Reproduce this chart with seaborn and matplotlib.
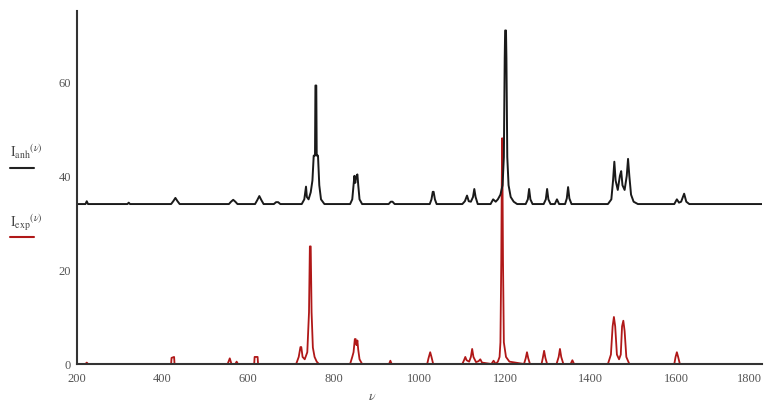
import matplotlib
matplotlib.use("Agg")
import matplotlib.pyplot as plt
from matplotlib.lines import Line2D
import seaborn as sns
import pandas as pd

# Calculated (anharmonic) spectrum: wavenumber vertices and intensity
anh_nu = [200, 220, 223, 226, 318, 321, 324,
          420, 425, 430, 435, 440, 555, 560, 565, 570, 575,
          616, 621, 626, 631, 636, 660, 665, 670, 675,
          725, 731, 735, 737, 741, 746, 750, 753, 756, 757, 759, 760, 763, 766, 770, 778,
          838, 843, 846, 848, 850, 852, 855, 857, 860, 866,
          928, 933, 937, 942, 1024, 1028, 1031, 1033, 1036, 1040,
          1100, 1106, 1111, 1115, 1120, 1125, 1128, 1131, 1136,
          1166, 1172, 1178, 1183, 1189, 1194, 1197, 1199, 1200, 1202, 1203, 1205, 1208, 1213, 1220, 1228,
          1248, 1253, 1256, 1259, 1264, 1290, 1295, 1298, 1301, 1306,
          1316, 1321, 1326, 1340, 1344, 1347, 1350, 1355,
          1440, 1448, 1452, 1455, 1458, 1463, 1468, 1471, 1474, 1479, 1484, 1487, 1490, 1494, 1500, 1510,
          1595, 1601, 1606, 1611, 1618, 1623, 1630, 1800]
anh_I = [34, 34, 34.6, 34, 34, 34.3, 34,
         34, 34.6, 35.3, 34.6, 34, 34, 34.5, 34.9, 34.5, 34,
         34, 34.8, 35.7, 34.8, 34, 34, 34.4, 34.4, 34,
         34, 35, 37.7, 35.5, 35, 36.5, 39, 44.3, 44.3, 59.2, 59.2, 44.3, 44.3, 38, 35, 34,
         34, 35, 38, 40, 38.5, 39.8, 40.3, 38, 35, 34,
         34, 34.5, 34.5, 34, 34, 35, 36.6, 36.6, 35, 34,
         34, 34.6, 35.8, 34.6, 34.5, 35.5, 37.2, 35.5, 34,
         34, 35, 34.5, 35, 36, 38, 44, 65, 70.9, 70.9, 65, 44, 38, 35.5, 34.5, 34,
         34, 35, 37.2, 35, 34, 34, 35, 37.2, 35, 34,
         34, 35, 34, 34, 35.2, 37.6, 35.2, 34,
         34, 35, 39, 43, 39, 37, 40, 41, 38, 37, 40, 43.6, 40, 36, 34.5, 34,
         34, 35, 34.3, 34.5, 36.2, 34.5, 34, 34]

# Experimental spectrum: wavenumber vertices and intensity
exp_nu = [200, 220, 223, 226, 420, 421, 427, 428,
          552, 557, 561, 570, 573, 576, 614, 615, 622, 623,
          712, 718, 722, 724, 727, 732, 738, 742, 744, 746, 748, 751, 755, 760, 765,
          838, 843, 846, 849, 851, 853, 855, 857, 860, 866,
          929, 932, 935, 1018, 1021, 1025, 1028, 1032,
          1100, 1104, 1107, 1110, 1116, 1120, 1123, 1126, 1132, 1138, 1142, 1146, 1168, 1173, 1178,
          1183, 1187, 1189, 1191, 1192, 1193, 1194, 1195, 1197, 1202, 1210,
          1244, 1248, 1251, 1254, 1258, 1285, 1288, 1291, 1294, 1298,
          1320, 1325, 1328, 1331, 1336, 1353, 1357, 1361,
          1440, 1447, 1451, 1454, 1457, 1461, 1466, 1470, 1473, 1476, 1479, 1483, 1490,
          1595, 1598, 1601, 1604, 1608, 1800]
exp_I = [0, 0, 0.3, 0, 0, 1.3, 1.5, 0,
         0, 1.2, 0, 0, 0.5, 0, 0, 1.5, 1.5, 0,
         0, 1.5, 3.6, 3.6, 1.5, 1.0, 2.5, 11, 25, 25, 11, 3.5, 1.5, 0.5, 0,
         0, 1.5, 2.5, 5.3, 5.3, 4, 5, 3, 1, 0,
         0, 0.7, 0, 0, 1.2, 2.5, 1.5, 0,
         0, 0.8, 1.5, 0.8, 0.5, 1.5, 3.2, 1.5, 0.4, 0.6, 1.0, 0.3, 0, 0.7, 0,
         0.5, 1.5, 4.6, 22, 37, 48, 37, 22, 4.6, 1.5, 0.5,
         0, 1.2, 2.5, 1.2, 0, 0, 1.3, 2.8, 1.3, 0,
         0, 1.5, 3.2, 1.5, 0, 0, 0.8, 0,
         0, 2, 8, 10, 8, 2, 1, 2, 8, 9.2, 7, 1.5, 0,
         0, 1.5, 2.5, 1.5, 0, 0]

x_ticks = [200, 400, 600, 800, 1000, 1200, 1400, 1600, 1800]
y_ticks = [0, 20, 40, 60]

anh = pd.DataFrame({"nu": anh_nu, "I": anh_I})
exp = pd.DataFrame({"nu": exp_nu, "I": exp_I})

sns.set_style("white")
plt.rcParams["font.family"] = ["Liberation Serif", "DejaVu Serif"]
plt.rcParams["mathtext.fontset"] = "stix"

fig = plt.figure(figsize=(7.69, 4.06), dpi=100)
ax = fig.add_axes([0.100, 0.101, 0.891, 0.869])

sns.lineplot(data=exp, x="nu", y="I", ax=ax, sort=False, estimator=None,
             color="#b01818", lw=1.3)
sns.lineplot(data=anh, x="nu", y="I", ax=ax, sort=False, estimator=None,
             color="#1a1a1a", lw=1.4)

ax.set_xlim(200, 1800)
ax.set_ylim(0, 75)
ax.set_xticks(x_ticks)
ax.set_yticks(y_ticks)
ax.set_xticklabels([str(v) for v in x_ticks])
ax.set_yticklabels(["" if v == 0 else str(v) for v in y_ticks])
ax.tick_params(axis="x", direction="in", length=10, width=1.0, color="#666666",
               labelsize=9, labelcolor="#555555", pad=6)
ax.tick_params(axis="y", direction="in", length=5, width=1.2, color="#333333",
               labelsize=9, labelcolor="#555555", pad=4)
# keep the last x label inside the canvas
ax.get_xticklabels()[-1].set_horizontalalignment("right")
for side in ["top", "right"]:
    ax.spines[side].set_visible(False)
for side in ["left", "bottom"]:
    ax.spines[side].set_color("#333333")
    ax.spines[side].set_linewidth(1.5)
ax.set_xlabel("")
ax.set_ylabel("")

# zero label at the origin corner
fig.text(68 / 769, 1 - 366 / 406, "0", fontsize=9, color="#555555",
         ha="center", va="center")
# axis variable below the x axis
fig.text(372 / 769, 1 - 397 / 406, r"$\nu$", fontsize=10, color="#555555",
         ha="center", va="center")

# trace labels with their line keys on the left margin
fig.text(10 / 769, 1 - 152 / 406, r"$\mathrm{I_{anh}}^{(\nu)}$", fontsize=10,
         color="#444444", ha="left", va="center")
fig.text(10 / 769, 1 - 223 / 406, r"$\mathrm{I_{exp}}^{(\nu)}$", fontsize=10,
         color="#444444", ha="left", va="center")
fig.add_artist(Line2D([10 / 769, 34 / 769], [1 - 169 / 406, 1 - 169 / 406],
                      transform=fig.transFigure, color="#222222", lw=1.5))
fig.add_artist(Line2D([10 / 769, 34 / 769], [1 - 238 / 406, 1 - 238 / 406],
                      transform=fig.transFigure, color="#b01818", lw=1.5))

fig.savefig("out.png", dpi=100)
